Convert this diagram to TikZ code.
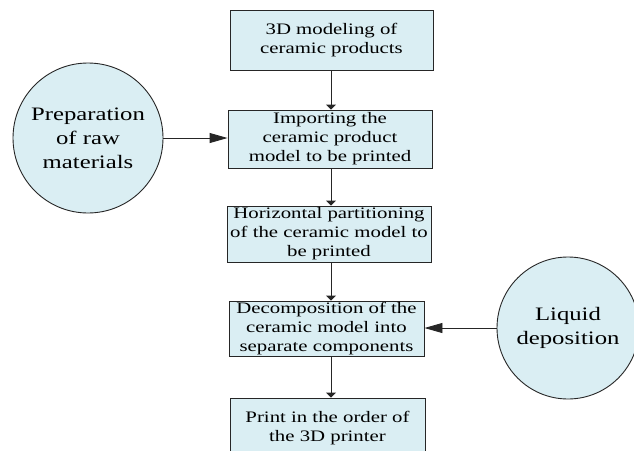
\documentclass[tikz,border=0pt]{standalone}
\usepackage{fontspec}
\setmainfont[FakeStretch=1.3]{Liberation Serif}
\usetikzlibrary{arrows.meta}
\definecolor{boxfill}{RGB}{218,238,243}
\begin{document}
\begin{tikzpicture}[x=1pt,y=-1pt,
  stepbox/.style={draw=black!85,line width=0.9pt,fill=boxfill,inner xsep=0pt,inner ysep=0pt,
    align=center,font=\fontsize{16}{19}\selectfont},
  sourcecirc/.style={circle,draw=black!85,line width=0.9pt,fill=boxfill,inner sep=0pt,
    align=center,font=\fontsize{19}{24}\selectfont},
  smallarrow/.style={-{Triangle[length=5pt,width=10pt]},line width=0.9pt,black!85},
  bigarrow/.style={-{Triangle[length=18pt,width=10pt]},line width=0.9pt,black!85}]
\useasboundingbox (0,0) rectangle (634,450);
\clip (0,0) rectangle (634,450);
\node[stepbox,minimum width=203pt,minimum height=60pt] (b1) at (331.5,40) {3D modeling of\\ceramic products};
\node[stepbox,minimum width=204pt,minimum height=58pt] (b2) at (330,139) {Importing the\\ceramic product\\model to be printed};
\node[stepbox,minimum width=204pt,minimum height=56pt] (b3) at (329,234) {Horizontal partitioning\\of the ceramic model to\\be printed};
\node[stepbox,minimum width=195pt,minimum height=55pt] (b4) at (326.5,328.5) {Decomposition of the\\ceramic model into\\separate components};
\node[stepbox,minimum width=195pt,minimum height=60pt] (b5) at (327.5,428) {Print in the order of\\the 3D printer};
\node[sourcecirc,minimum size=150pt] (c1) at (88,138) {Preparation\\of raw\\materials};
\node[sourcecirc,minimum size=142pt] (c2) at (568,328) {Liquid\\deposition};
\coordinate (xa) at (331,0);
\draw[smallarrow] (b1.south -| xa) -- (b2.north -| xa);
\draw[smallarrow] (b2.south -| xa) -- (b3.north -| xa);
\draw[smallarrow] (b3.south -| xa) -- (b4.north -| xa);
\draw[smallarrow] (b4.south -| xa) -- (b5.north -| xa);
\draw[bigarrow] (c1.east) -- (c1.east -| b2.west);
\draw[bigarrow] (c2.west) -- (c2.west -| b4.east);
\end{tikzpicture}
\end{document}
